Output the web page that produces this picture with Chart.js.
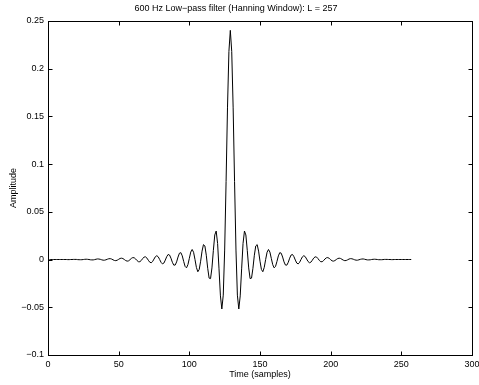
<!DOCTYPE html>
<html>
<head>
<meta charset="utf-8">
<script src="https://cdn.jsdelivr.net/npm/chart.js@4.4.0/dist/chart.umd.min.js"></script>
<style>
  html, body { margin: 0; padding: 0; background: #fff; }
  #wrap { width: 479px; height: 385px; }
</style>
</head>
<body>
<div id="wrap"><canvas id="c" width="479" height="385"></canvas></div>
<script>
const titleText = "600 Hz Low\u2212pass filter (Hanning Window): L = 257";
const xLabel = "Time (samples)";
const yLabel = "Amplitude";
const xTicks = [0, 50, 100, 150, 200, 250, 300];
const yTicks = [-0.1, -0.05, 0, 0.05, 0.1, 0.15, 0.2, 0.25];

// filter taps, sample 1..257
const amplitude = [
  0, 0, 0, 0, 0, 0, 0, 0,
  0, 0, 0, 0, 0, -0.0001, -0.0001, 0, 0, 0.0001,
  0.0001, 0.0001, -0.0001, -0.0002, -0.0002, -0.0002, 0, 0.0002, 0.0003, 0.0002,
  0, -0.0003, -0.0004, -0.0004, -0.0001, 0.0003, 0.0006, 0.0005, 0.0002, -0.0003,
  -0.0007, -0.0007, -0.0003, 0.0003, 0.0008, 0.0009, 0.0005, -0.0003, -0.0010, -0.0012,
  -0.0007, 0.0002, 0.0011, 0.0014, 0.0010, 0, -0.0011, -0.0017, -0.0014, -0.0002,
  0.0012, 0.0020, 0.0018, 0.0006, -0.0011, -0.0023, -0.0023, -0.0010, 0.0010, 0.0026,
  0.0028, 0.0015, -0.0008, -0.0028, -0.0034, -0.0021, 0.0005, 0.0030, 0.0040, 0.0028,
  0, -0.0030, -0.0046, -0.0037, -0.0006, 0.0030, 0.0053, 0.0047, 0.0014, -0.0029,
  -0.0059, -0.0058, -0.0025, 0.0026, 0.0066, 0.0072, 0.0038, -0.0020, -0.0072, -0.0087,
  -0.0054, 0.0012, 0.0078, 0.0105, 0.0076, 0, -0.0083, -0.0128, -0.0104, -0.0018,
  0.0088, 0.0156, 0.0142, 0.0045, -0.0092, -0.0195, -0.0200, -0.0088, 0.0096, 0.0257,
  0.0298, 0.0168, -0.0098, -0.0381, -0.0518, -0.0373, 0.0099, 0.0816, 0.1588, 0.2179,
  0.2400,
  0.2179, 0.1588, 0.0816, 0.0099, -0.0373, -0.0518, -0.0381, -0.0098, 0.0168, 0.0298,
  0.0257, 0.0096, -0.0088, -0.0200, -0.0195, -0.0092, 0.0045, 0.0142, 0.0156, 0.0088,
  -0.0018, -0.0104, -0.0128, -0.0083, 0, 0.0076, 0.0105, 0.0078, 0.0012, -0.0054,
  -0.0087, -0.0072, -0.0020, 0.0038, 0.0072, 0.0066, 0.0026, -0.0025, -0.0058, -0.0059,
  -0.0029, 0.0014, 0.0047, 0.0053, 0.0030, -0.0006, -0.0037, -0.0046, -0.0030, 0,
  0.0028, 0.0040, 0.0030, 0.0005, -0.0021, -0.0034, -0.0028, -0.0008, 0.0015, 0.0028,
  0.0026, 0.0010, -0.0010, -0.0023, -0.0023, -0.0011, 0.0006, 0.0018, 0.0020, 0.0012,
  -0.0002, -0.0014, -0.0017, -0.0011, 0, 0.0010, 0.0014, 0.0011, 0.0002, -0.0007,
  -0.0012, -0.0010, -0.0003, 0.0005, 0.0009, 0.0008, 0.0003, -0.0003, -0.0007, -0.0007,
  -0.0003, 0.0002, 0.0005, 0.0006, 0.0003, -0.0001, -0.0004, -0.0004, -0.0003, 0,
  0.0002, 0.0003, 0.0002, 0, -0.0002, -0.0002, -0.0002, -0.0001, 0.0001, 0.0001,
  0.0001, 0, 0, -0.0001, -0.0001, 0, 0, 0, 0, 0,
  0, 0, 0, 0, 0, 0, 0, 0
];
const samples = amplitude.map((_, i) => i + 1);

const FONT = "'Liberation Sans', Arial, Helvetica, sans-serif";

function fmt(v) {
  const s = String(parseFloat(Number(v).toFixed(2)));
  return s.replace("-", "\u2212");
}

// MATLAB-style box with ticks pointing inwards on all four sides
const frame = {
  id: "frame",
  afterDraw(chart) {
    const { ctx, chartArea: a, scales } = chart;
    const L = Math.round(a.left) + 0.5, R = Math.round(a.right) + 0.5;
    const T = Math.round(a.top) + 0.5, B = Math.round(a.bottom) + 0.5;
    const len = 4;
    ctx.save();
    ctx.strokeStyle = "#000";
    ctx.lineWidth = 1;
    ctx.strokeRect(L, T, R - L, B - T);
    ctx.beginPath();
    xTicks.forEach((v) => {
      const px = Math.round(scales.x.getPixelForValue(v)) + 0.5;
      ctx.moveTo(px, B); ctx.lineTo(px, B - len);
      ctx.moveTo(px, T); ctx.lineTo(px, T + len);
    });
    yTicks.forEach((v) => {
      const py = Math.round(scales.y.getPixelForValue(v)) + 0.5;
      ctx.moveTo(L, py); ctx.lineTo(L + len, py);
      ctx.moveTo(R, py); ctx.lineTo(R - len, py);
    });
    ctx.stroke();
    ctx.restore();
  },
};

new Chart(document.getElementById("c"), {
  type: "line",
  data: {
    datasets: [{
      data: samples.map((x, i) => ({ x, y: amplitude[i] })),
      borderColor: "#000",
      borderWidth: 1,
      pointRadius: 0,
      tension: 0,
      fill: false,
    }],
  },
  options: {
    responsive: false,
    animation: false,
    layout: { padding: { top: 0, right: 7, bottom: 0, left: 0 } },
    plugins: {
      legend: { display: false },
      tooltip: { enabled: false },
      title: {
        display: true,
        text: titleText,
        color: "#000",
        font: { family: FONT, size: 9, weight: "normal" },
        padding: { top: 3, bottom: 7 },
      },
    },
    scales: {
      x: {
        type: "linear",
        min: 0,
        max: 300,
        afterBuildTicks: (s) => { s.ticks = xTicks.map((v) => ({ value: v })); },
        afterFit: (s) => { s.height = 30; s.paddingLeft = 0; s.paddingRight = 0; },
        grid: { display: false, drawTicks: false },
        border: { display: false },
        ticks: {
          color: "#000",
          font: { family: FONT, size: 9 },
          padding: 4,
          maxRotation: 0,
          callback: (v) => fmt(v),
        },
        title: {
          display: true,
          text: xLabel,
          color: "#000",
          font: { family: FONT, size: 9 },
          padding: { top: 0, bottom: 5 },
        },
      },
      y: {
        min: -0.1,
        max: 0.25,
        afterBuildTicks: (s) => { s.ticks = yTicks.map((v) => ({ value: v })); },
        afterFit: (s) => { s.width = 48; s.paddingTop = 0; s.paddingBottom = 0; },
        grid: { display: false, drawTicks: false },
        border: { display: false },
        ticks: {
          color: "#000",
          font: { family: FONT, size: 9 },
          padding: 4,
          callback: (v) => fmt(v),
        },
        title: {
          display: true,
          text: yLabel,
          color: "#000",
          font: { family: FONT, size: 9 },
          padding: { top: 8, bottom: 0 },
        },
      },
    },
  },
  plugins: [frame],
});
</script>
</body>
</html>
